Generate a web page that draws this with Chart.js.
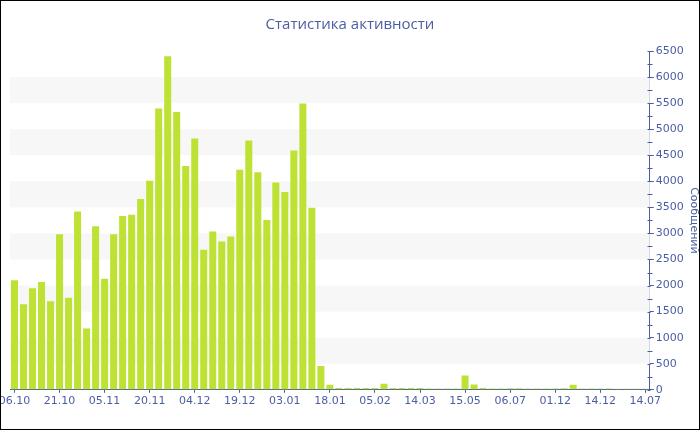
<!DOCTYPE html>
<html>
<head>
<meta charset="utf-8">
<script src="https://cdn.jsdelivr.net/npm/chart.js@4.4.1/dist/chart.umd.min.js"></script>
<style>
  html, body { margin: 0; padding: 0; background: #fff; }
  #wrap { position: relative; width: 700px; height: 430px; }
  #frame { position: absolute; left: 0; top: 0; width: 700px; height: 430px; box-sizing: border-box; border: 1px solid #000; pointer-events: none; }
  canvas { display: block; }
</style>
</head>
<body>
<div id="wrap">
  <canvas id="c" width="700" height="430"></canvas>
  <div id="frame"></div>
</div>
<script>
// ---- data ----
const chartTitle = 'Статистика активности';
const axisTitle = 'Сообщений';
const tickLabels = ['06.10','21.10','05.11','20.11','04.12','19.12','03.01','18.01','05.02','14.03','15.05','06.07','01.12','14.12','14.07'];
const messages = [
  2100, 1640, 1950, 2070, 1700, 2985, 1765, 3420, 1175, 3140,
  2130, 2985, 3335, 3360, 3660, 4010, 5395, 6400, 5330, 4295,
  4820, 2685, 3035, 2845, 2940, 4220, 4785, 4175, 3260, 3975,
  3795, 4590, 5495, 3495, 455, 95, 35, 35, 35, 35,
  35, 115, 35, 35, 35, 35, 25, 25, 25, 25,
  275, 100, 35, 25, 25, 30, 30, 25, 25, 25,
  25, 30, 95, 25, 25, 25, 25, 20, 20, 20,
  20
];
const labelEvery = 5;
const categories = messages.map((_, i) => (i % labelEvery === 0 ? tickLabels[i / labelEvery] : ''));
const yMax = 6500;
const yStep = 500;

// ---- styles ----
const axisColor = '#4b5ea2';
const textColor = '#4b5ea2';
const barColor = '#bde234';
const bandColor = '#f7f7f7';

Chart.defaults.font.family = 'DejaVu Sans';
Chart.defaults.font.size = 11;

const decorPlugin = {
  id: 'decor',
  beforeDatasetsDraw(chart) {
    const { ctx, chartArea: a, scales: { y } } = chart;
    const t = y.ticks;
    ctx.save();
    ctx.fillStyle = bandColor;
    for (let i = 1; i + 1 < t.length; i += 2) {
      const top = y.getPixelForValue(t[i + 1].value);
      const bot = y.getPixelForValue(t[i].value);
      ctx.fillRect(a.left, top, a.right - a.left, bot - top);
    }
    ctx.restore();
  },
  afterDraw(chart) {
    const { ctx, scales: { y } } = chart;
    const t = y.ticks;
    const x0 = Math.round(y.left) + 0.5;
    ctx.save();
    ctx.strokeStyle = axisColor;
    ctx.lineWidth = 1;
    ctx.beginPath();
    for (let i = 0; i < t.length; i++) {
      const py = Math.round(y.getPixelForValue(t[i].value)) + 0.5;
      ctx.moveTo(x0 - 3, py); ctx.lineTo(x0, py);
      if (i + 1 < t.length) {
        const my = Math.round(y.getPixelForValue((t[i].value + t[i + 1].value) / 2)) + 0.5;
        ctx.moveTo(x0 - 3, my); ctx.lineTo(x0 + 2, my);
      }
    }
    ctx.stroke();
    ctx.restore();
  }
};

new Chart(document.getElementById('c'), {
  type: 'bar',
  data: {
    labels: categories,
    datasets: [{
      data: messages,
      backgroundColor: barColor,
      borderWidth: 0,
      barPercentage: 0.78,
      categoryPercentage: 1.0
    }]
  },
  options: {
    responsive: false,
    animation: false,
    devicePixelRatio: 1,
    layout: { padding: { left: 0, right: 0, top: 0, bottom: 20 } },
    plugins: {
      legend: { display: false },
      tooltip: { enabled: false },
      title: {
        display: true,
        text: chartTitle,
        color: textColor,
        font: { family: 'Open Sans', size: 15, weight: 'normal' },
        padding: { top: 16, bottom: 17 }
      }
    },
    scales: {
      x: {
        offset: true,
        afterFit(scale) { scale.paddingLeft = 10; },
        grid: { display: true, drawOnChartArea: false, drawTicks: true, tickLength: 3, offset: false, color: axisColor },
        border: { display: true, color: axisColor },
        ticks: {
          autoSkip: false,
          maxRotation: 0,
          minRotation: 0,
          padding: 2,
          color: textColor,
          font: { size: 11 },
          callback: (v, i) => (i % labelEvery === 0 ? tickLabels[i / labelEvery] : null)
        }
      },
      y: {
        position: 'right',
        min: 0,
        max: yMax,
        grid: { display: true, drawOnChartArea: false, drawTicks: true, tickLength: 4, color: axisColor },
        border: { display: true, color: axisColor },
        ticks: { stepSize: yStep, padding: 2, color: textColor, font: { size: 11 }, callback: (v) => String(v) },
        title: {
          display: true,
          text: axisTitle,
          color: textColor,
          font: { size: 11 },
          padding: { top: 0, bottom: 1 }
        }
      }
    }
  },
  plugins: [decorPlugin]
});
</script>
</body>
</html>
